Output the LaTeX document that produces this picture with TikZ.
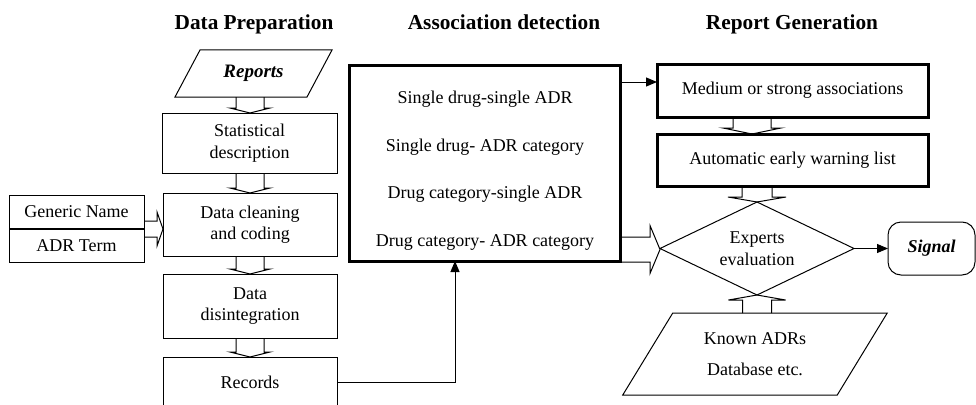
\documentclass[tikz,border=0pt]{standalone}
\usepackage{fontspec}
\setmainfont{Liberation Serif}
\usetikzlibrary{shapes.geometric,arrows.meta,calc}
\tikzset{
  txt/.style={font=\fontsize{18}{21.5}\selectfont, align=center, inner sep=0pt, outer sep=0pt},
  ttl/.style={font=\fontsize{21.3}{25}\selectfont\bfseries, inner sep=0pt, anchor=base},
  thinbox/.style={txt, draw, line width=1pt},
  thickbox/.style={txt, draw, line width=3pt},
  hollow/.style={draw, line width=1pt, line join=miter},
  conn/.style={line width=1pt, -{Triangle[length=11pt,width=9pt]}},
}
% downward hollow arrow: from, to, xshift, shaft half, head half, head length
\newcommand\hdown[6]{\draw[hollow] let \p1=([xshift=#3]#1.south), \p2=(#2.north) in
  (\x1-#4,\y1) -- (\x1-#4,\y2+#6) -- (\x1-#5,\y2+#6) -- (\x1,\y2) -- (\x1+#5,\y2+#6) -- (\x1+#4,\y2+#6) -- (\x1+#4,\y1);}
% upward hollow arrow
\newcommand\hup[6]{\draw[hollow] let \p1=([xshift=#3]#1.north), \p2=(#2.south) in
  (\x1-#4,\y1) -- (\x1-#4,\y2-#6) -- (\x1-#5,\y2-#6) -- (\x1,\y2) -- (\x1+#5,\y2-#6) -- (\x1+#4,\y2-#6) -- (\x1+#4,\y1);}
% rightward hollow arrow: from-point, to node, shaft half, head half, head length
\newcommand\hright[5]{\draw[hollow] let \p1=(#1), \p2=(#2.west) in
  (\x1,\y1+#3) -- (\x2-#5,\y1+#3) -- (\x2-#5,\y1+#4) -- (\x2,\y1) -- (\x2-#5,\y1-#4) -- (\x2-#5,\y1-#3) -- (\x1,\y1-#3);}
\begin{document}
\begin{tikzpicture}[x=1pt,y=-1pt]
\clip (0,0) rectangle (976,404);
\fill[white] (0,0) rectangle (976,404);

% titles
\node[ttl] (t1) at (254,30) {Data Preparation};
\node[ttl] (t2) at (504,30) {Association detection};
\node[ttl] (t3) at (792,30) {Report Generation};

% left column
\node[txt, minimum width=132pt, minimum height=47pt, font=\fontsize{19}{22}\selectfont\bfseries\itshape] (rep) at (253.5,73.5) {Reports};
\draw[line width=1pt] ([xshift=-12.5pt]rep.south west) -- ([xshift=12.5pt]rep.north west) -- ([xshift=12.5pt]rep.north east) -- ([xshift=-12.5pt]rep.south east) -- cycle;
\node[thinbox, minimum width=175pt, minimum height=60pt] (stat) at (249.5,143) {Statistical\\description};
\node[thinbox, minimum width=174pt, minimum height=63pt] (clean) at (250,224.5) {Data cleaning\\ and coding};
\node[thinbox, minimum width=174pt, minimum height=64pt] (dis) at (250,306) {Data\\disintegration};
\node[thinbox, minimum width=174pt, minimum height=50pt] (rec) at (250,382) {Records};
\node[thinbox, minimum width=135pt, minimum height=33.5pt] (gen) at (76.5,211.75) {Generic Name};
\node[thinbox, minimum width=135pt, minimum height=32.5pt] (adr) at (76.5,245.75) {ADR Term};

\hdown{rep}{stat}{-3.5pt}{14pt}{20pt}{5pt}
\hdown{stat}{clean}{0.5pt}{14pt}{20pt}{5pt}
\hdown{clean}{dis}{0pt}{14pt}{20pt}{5pt}
\hdown{dis}{rec}{0pt}{14pt}{20pt}{5pt}
\coordinate (ga) at ($(gen.south east)!0.5!(adr.north east)$);
\hright{ga}{clean}{8pt}{17pt}{6pt}

% association detection
\node[thickbox, minimum width=271pt, minimum height=196pt] (assoc) at (484.5,163) {};
\node[txt] (assoctxt) at (485,170.5) {Single drug-single ADR\\[26pt]Single drug- ADR category\\[26pt]Drug category-single ADR\\[26pt]Drug category- ADR category};
\draw[conn] (rec.east) -| ([xshift=-29.5pt]assoc.south);

% report generation
\node[thickbox, minimum width=271pt, minimum height=53pt] (med) at (792.5,90.5) {Medium or strong associations};
\node[thickbox, minimum width=271pt, minimum height=52pt] (auto) at (792.5,160) {Automatic early warning list};
\node[txt, draw, line width=1pt, shape=diamond, minimum width=194pt, minimum height=93pt, aspect=2.09] (diam) at (757,248.5) {Experts\\evaluation};
\node[txt, draw, line width=1pt, rounded corners=13pt, minimum width=87pt, minimum height=53pt, font=\fontsize{18}{21.5}\selectfont\bfseries\itshape] (sig) at (931.5,248.5) {Signal};
\node[txt, minimum width=214.5pt, minimum height=82pt] (known) at (755,354) {Known ADRs\\[10pt]Database etc.};
\draw[line width=1pt] ([xshift=-25pt]known.south west) -- ([xshift=25pt]known.north west) -- ([xshift=25pt]known.north east) -- ([xshift=-25pt]known.south east) -- cycle;

\draw[conn] ([yshift=-17pt]assoc.north east) -- ([yshift=-17pt]assoc.north east -| med.west);
\hdown{med}{auto}{-40.5pt}{19pt}{29pt}{6pt}
\hdown{auto}{diam}{-35.5pt}{15pt}{29pt}{5pt}
\hup{known}{diam}{2pt}{14.5pt}{28.5pt}{5pt}
\coordinate (ad) at ([yshift=-86.5pt]assoc.east);
\hright{ad}{diam}{12.5pt}{24pt}{10pt}
\draw[conn] (diam.east) -- (sig.west);
\end{tikzpicture}
\end{document}
